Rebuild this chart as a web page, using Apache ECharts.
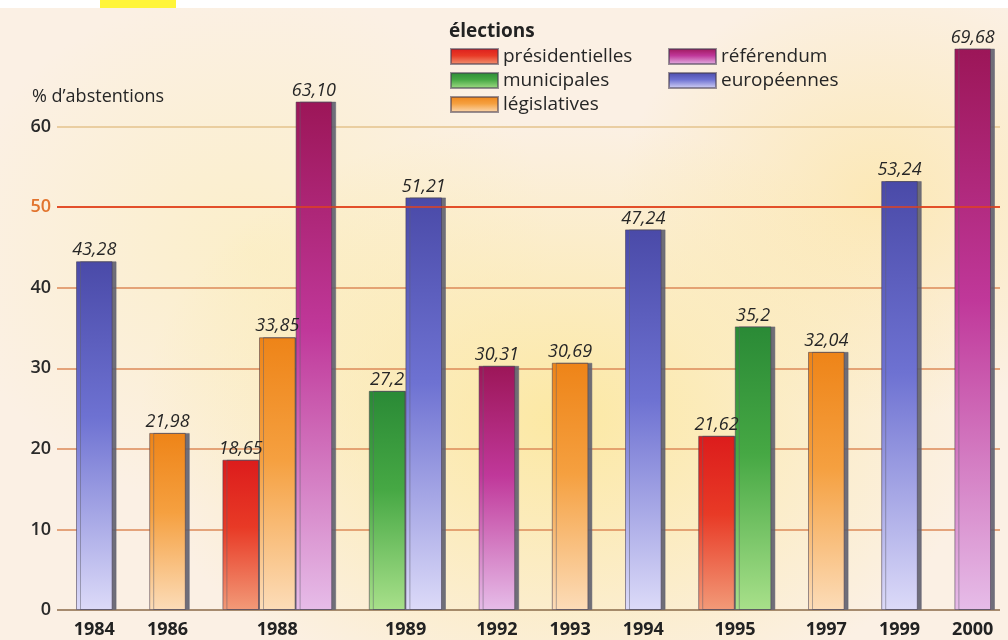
<!DOCTYPE html>
<html>
<head>
<meta charset="utf-8">
<script src="https://cdn.jsdelivr.net/npm/echarts@6/dist/echarts.min.js"></script>
<style>
  html, body { margin: 0; padding: 0; background: #fff; }
  #chart {
    width: 1008px; height: 640px;
    background:
      radial-gradient(ellipse 420px 300px at 560px 420px, rgba(252,232,160,0.95) 0%, rgba(252,232,160,0) 100%),
      radial-gradient(ellipse 260px 220px at 880px 200px, rgba(252,230,170,0.8) 0%, rgba(252,230,170,0) 100%),
      radial-gradient(ellipse 300px 260px at 250px 250px, rgba(251,238,190,0.7) 0%, rgba(251,238,190,0) 100%),
      #fbf0e4;
  }
</style>
</head>
<body>
<div id="chart"></div>
<script>
// years and values (as printed, comma decimals on the chart)
var years = ['1984', '1986', '1988', '1989', '1992', '1993', '1994', '1995', '1997', '1999', '2000'];
var presidentielles = [null, null, '18.65', null, null, null, null, '21.62', null, null, null];
var municipales     = [null, null, null, '27.2', null, null, null, '35.2', null, null, null];
var legislatives    = [null, '21.98', '33.85', null, null, '30.69', null, null, '32.04', null, null];
var referendum      = [null, null, '63.10', null, '30.31', null, null, null, null, null, '69.68'];
var europeennes     = ['43.28', null, null, '51.21', null, null, '47.24', null, null, '53.24', null];
var yTicks = [0, 10, 20, 30, 40, 50, 60, 70];

var seriesDefs = [
  { name: 'présidentielles', vals: presidentielles, top: '#dc1c1c', mid: '#e83a26', bottom: '#f29a78' },
  { name: 'municipales', vals: municipales, top: '#2a8a36', mid: '#46a844', bottom: '#a8e08a' },
  { name: 'législatives', vals: legislatives, top: '#ee8418', mid: '#f5a040', bottom: '#fcdcb8' },
  { name: 'référendum', vals: referendum, top: '#9c1658', mid: '#c0389a', bottom: '#e6bce8' },
  { name: 'européennes', vals: europeennes, top: '#4a4aa8', mid: '#6e72d2', bottom: '#dcdaf8' }
];

// one slot per bar, one empty slot between years
var slots = [];
var slotLabel = [];
years.forEach(function(y, i) {
  var first = slots.length;
  seriesDefs.forEach(function(s, si) {
    if (s.vals[i] !== null) slots.push({ year: i, s: si });
  });
  var n = slots.length - first;
  for (var k = first; k < slots.length; k++) slotLabel[k] = '';
  if (n % 2 === 1) slotLabel[first + (n - 1) / 2] = '{y|' + y + '}';
  else slotLabel[first + n / 2 - 1] = '{ys|' + y + '}';
  if (i < years.length - 1) { slotLabel[slots.length] = ''; slots.push(null); }
});
var cats = slots.map(function(s, i) { return 'c' + i; });

var chart = echarts.init(document.getElementById('chart'), null, { renderer: 'canvas' });

var font = 'Open Sans';
var barSeries = seriesDefs.map(function(s, si) {
  return {
    name: s.name,
    type: 'bar',
    xAxisIndex: 1,
    yAxisIndex: 1,
    stack: 'all',
    barCategoryGap: '0%',
    z: 2,
    itemStyle: {
      color: {
        type: 'linear', x: 0, y: 0, x2: 0, y2: 1,
        colorStops: [
          { offset: 0, color: s.top },
          { offset: 0.45, color: s.mid },
          { offset: 1, color: s.bottom }
        ]
      },
      borderColor: 'rgba(70,60,80,0.55)',
      borderWidth: 1,
      shadowColor: 'rgba(95,95,110,0.9)',
      shadowOffsetX: 4,
      shadowBlur: 0
    },
    label: {
      show: true,
      position: 'top',
      distance: 2,
      fontFamily: font,
      fontStyle: 'italic',
      fontSize: 18,
      color: '#262626',
      formatter: function(p) { return s.vals[slots[p.dataIndex].year].replace('.', ','); }
    },
    data: slots.map(function(sl) {
      return (sl && sl.s === si) ? Number(s.vals[sl.year]) : '-';
    })
  };
});

var legendText = { fontFamily: font, fontSize: 19, color: '#262626', lineHeight: 19 };

chart.setOption({
  animation: false,
  title: {
    text: 'élections',
    left: 444, top: 17,
    textStyle: { fontFamily: font, fontWeight: 'bold', fontSize: 19, color: '#222' }
  },
  legend: [
    {
      data: ['présidentielles', 'municipales', 'législatives'],
      orient: 'vertical', left: 445, top: 42,
      itemWidth: 47, itemHeight: 15, itemGap: 5,
      icon: 'rect',
      textStyle: legendText
    },
    {
      data: ['référendum', 'européennes'],
      orient: 'vertical', left: 663, top: 42,
      itemWidth: 47, itemHeight: 15, itemGap: 5,
      icon: 'rect',
      textStyle: legendText
    }
  ],
  graphic: [
    { type: 'rect', shape: { x: 0, y: 0, width: 1008, height: 8 }, style: { fill: '#ffffff' } },
    { type: 'rect', shape: { x: 100, y: 0, width: 76, height: 8 }, style: { fill: '#fff53a' } },
    {
      type: 'text', left: 32, top: 88,
      style: { text: '% d\u2019abstentions', fontFamily: font, fontSize: 18, fill: '#262626' }
    }
  ],
  grid: [
    { left: 57, right: 8, top: 46, bottom: 30 },
    { left: 76, width: 915, top: 46, bottom: 30 }
  ],
  xAxis: [
    { type: 'value', gridIndex: 0, min: 0, max: 1, show: false },
    {
      type: 'category', gridIndex: 1, data: cats,
      axisLine: { show: false }, axisTick: { show: false },
      axisLabel: {
        interval: 0, margin: 11,
        formatter: function(v, i) { return slotLabel[i]; },
        rich: {
          y: { fontFamily: font, fontSize: 18, fontWeight: 'bold', color: '#222' },
          ys: { fontFamily: font, fontSize: 18, fontWeight: 'bold', color: '#222', padding: [0, 0, 0, 37] }
        }
      }
    }
  ],
  yAxis: [
    {
      type: 'value', gridIndex: 0, min: 0, max: 70, interval: 10,
      axisLine: { show: false }, axisTick: { show: false },
      axisLabel: {
        margin: 6, fontFamily: font, fontSize: 18, fontWeight: 600,
        color: function(v) { return Number(v) === 50 ? '#e2742e' : '#2a2a2a'; },
        formatter: function(v) { return v === 70 ? '' : String(v); }
      },
      splitLine: {
        show: true,
        lineStyle: {
          width: 1.5,
          color: ['#8a6a48', '#dc8a58', '#dc8a58', '#dc8a58', '#dc8a58', '#e0502a', '#e4c38c', 'rgba(0,0,0,0)']
        }
      }
    },
    { type: 'value', gridIndex: 1, min: 0, max: 70, interval: 10, show: false }
  ],
  series: barSeries.concat([{
    type: 'line',
    xAxisIndex: 0,
    yAxisIndex: 0,
    data: [],
    z: 5,
    silent: true,
    markLine: {
      silent: true,
      symbol: 'none',
      label: { show: false },
      lineStyle: { color: 'rgba(226,66,30,0.75)', width: 2, type: 'solid' },
      data: [{ yAxis: yTicks[5] }]
    }
  }])
});
</script>
</body>
</html>
